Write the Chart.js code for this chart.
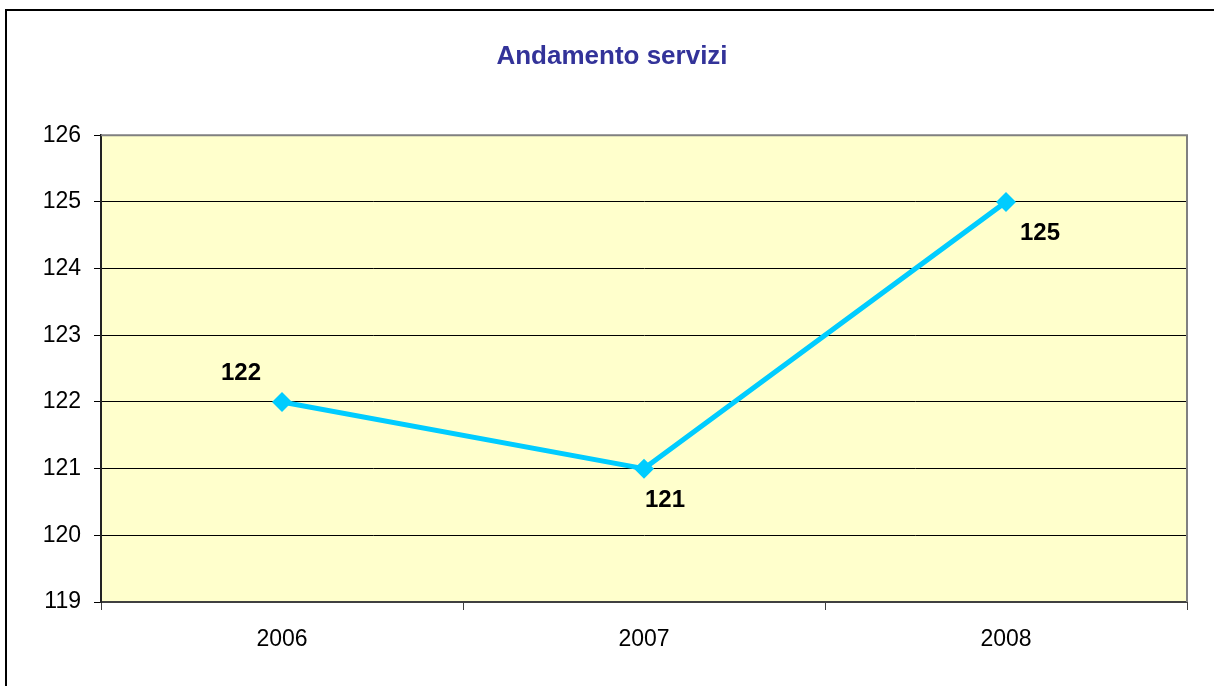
<!DOCTYPE html>
<html>
<head>
<meta charset="utf-8">
<script src="https://cdn.jsdelivr.net/npm/chart.js@4"></script>
<style>
  html, body { margin: 0; padding: 0; background: #fff; }
  #wrap { width: 1214px; height: 686px; position: relative; }
</style>
</head>
<body>
<div id="wrap"><canvas id="c" width="1214" height="686"></canvas></div>
<script>
const categories = ['2006', '2007', '2008'];
const serviceValues = [122, 121, 125];
const yTicks = [119, 120, 121, 122, 123, 124, 125, 126];
const chartTitle = 'Andamento servizi';

const FONT = '"Liberation Sans", Arial, sans-serif';

const framePlugin = {
  id: 'frame',
  beforeDraw(chart) {
    const { ctx, chartArea: a } = chart;
    ctx.save();
    ctx.fillStyle = '#ffffff';
    ctx.fillRect(0, 0, chart.width, chart.height);
    ctx.strokeStyle = '#000000';
    ctx.lineWidth = 2;
    ctx.strokeRect(6, 10, chart.width + 20, chart.height + 20);
    ctx.fillStyle = '#FFFFCC';
    ctx.fillRect(a.left, a.top, a.right - a.left, a.bottom - a.top);
    ctx.restore();
  },
  beforeDatasetsDraw(chart) {
    const { ctx, chartArea: a } = chart;
    ctx.save();
    ctx.strokeStyle = '#808080';
    ctx.lineWidth = 2;
    ctx.beginPath();
    ctx.moveTo(a.left, a.top);
    ctx.lineTo(a.right, a.top);
    ctx.lineTo(a.right, a.bottom);
    ctx.stroke();
    ctx.restore();
  }
};

const labelPlugin = {
  id: 'valueLabels',
  afterDatasetsDraw(chart, args, opts) {
    const { ctx } = chart;
    const meta = chart.getDatasetMeta(0);
    ctx.save();
    ctx.font = 'bold 24px ' + FONT;
    ctx.fillStyle = '#000000';
    ctx.textAlign = 'center';
    ctx.textBaseline = 'middle';
    meta.data.forEach((pt, i) => {
      const off = opts.offsets[i];
      ctx.fillText(String(chart.data.datasets[0].data[i]), pt.x + off[0], pt.y + off[1]);
    });
    ctx.restore();
  }
};

new Chart(document.getElementById('c'), {
  type: 'line',
  data: {
    labels: categories,
    datasets: [{
      label: 'Servizi',
      data: serviceValues,
      borderColor: '#00CCFF',
      backgroundColor: '#00CCFF',
      borderWidth: 5,
      pointStyle: 'rectRot',
      pointRadius: 10,
      pointBorderWidth: 0,
      pointBackgroundColor: '#00CCFF',
      tension: 0,
      fill: false
    }]
  },
  options: {
    responsive: false,
    animation: false,
    devicePixelRatio: 1,
    layout: { padding: { left: 37, right: 27, top: 0, bottom: 0 } },
    plugins: {
      legend: { display: false },
      tooltip: { enabled: false },
      title: {
        display: true,
        text: chartTitle,
        color: '#333399',
        font: { family: FONT, size: 26, weight: 'bold', lineHeight: 1.2 },
        padding: { top: 41, bottom: 63 }
      },
      valueLabels: { offsets: [[-41, -29], [21, 32], [34, 31]] }
    },
    scales: {
      x: {
        type: 'category',
        offset: true,
        grid: {
          offset: true,
          drawOnChartArea: false,
          drawTicks: true,
          tickLength: 8,
          color: '#404040',
          lineWidth: 1
        },
        border: { display: true, color: '#404040', width: 2 },
        ticks: {
          color: '#000000',
          font: { family: FONT, size: 23 },
          padding: 16,
          maxRotation: 0
        },
        afterFit(scale) { scale.height = 84; }
      },
      y: {
        min: 119,
        max: 126,
        afterBuildTicks(scale) { scale.ticks = yTicks.map(v => ({ value: v })); },
        grid: {
          color: '#000000',
          lineWidth: 1,
          drawTicks: true,
          tickLength: 7
        },
        border: { display: true, color: '#222222', width: 2 },
        ticks: {
          color: '#000000',
          font: { family: FONT, size: 23 },
          padding: 13
        },
        afterFit(scale) { scale.width = 64; }
      }
    }
  },
  plugins: [framePlugin, labelPlugin]
});
</script>
</body>
</html>
